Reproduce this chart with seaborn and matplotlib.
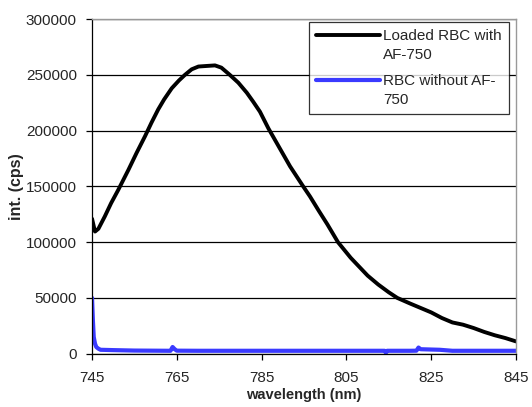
import matplotlib
matplotlib.use("Agg")
import matplotlib.pyplot as plt
import seaborn as sns
import pandas as pd
import numpy as np
from matplotlib.legend_handler import HandlerLine2D

# loaded RBC with AF-750
wl_loaded = [745, 745.7, 746.5, 748, 749.5, 751.2, 753.6, 755.5, 757.5, 759, 760.6,
             762, 763.8, 765.5, 766.9, 768.5, 770.1, 772, 774, 775.5, 777.5, 779.5,
             781.5, 783, 784.6, 786.6, 789.3, 791.7, 794.8, 796.4, 798.5, 800.5,
             803, 806, 808, 810, 812.5, 815, 817, 820, 822.5, 825, 827.5, 830,
             832.5, 835, 837.5, 840, 842.5, 845]
int_loaded = [121000, 109500, 112000, 123000, 135000, 147000, 165000, 180000, 195000,
              207000, 219000, 228000, 238000, 245000, 250000, 255000, 257500, 258000,
              258500, 256500, 250000, 243000, 234000, 226000, 217000, 202000, 184000,
              168000, 150000, 141000, 128000, 116000, 100000, 86000, 78000, 70000,
              62000, 55000, 50000, 45000, 41000, 37000, 32000, 28000, 26000, 23000,
              19500, 16500, 14000, 11000]

# RBC without AF-750
wl_plain = [745, 745.2, 745.4, 745.7, 746, 746.5, 747, 750, 755, 763.5, 764, 764.5,
            765, 770, 780, 790, 800, 810, 814, 814.3, 814.6, 820, 821.5, 822, 822.5,
            827, 830, 840, 845]
int_plain = [50000, 30000, 15000, 9000, 6000, 4500, 3500, 3200, 2800, 2600, 6000, 4000,
             2700, 2600, 2600, 2600, 2600, 2600, 2600, 800, 2600, 2600, 2700, 5500, 4000,
             3500, 2600, 2600, 2600]

lbl_loaded = "Loaded RBC with\nAF-750"
lbl_plain = "RBC without AF-\n750"


class TopLineHandler(HandlerLine2D):
    # put the legend line next to the first text line, like Excel does
    def create_artists(self, *args, **kwargs):
        arts = super().create_artists(*args, **kwargs)
        for a in arts:
            a.set_ydata(np.asarray(a.get_ydata()) + 7.5)
        return arts


sns.set_style("white")
plt.rcParams['font.family'] = ['Liberation Sans', 'DejaVu Sans']

fig = plt.figure(figsize=(5.32, 4.07), dpi=100)
ax = fig.add_axes([0.173, 0.131, 0.797, 0.822])

df_l = pd.DataFrame({'wl': wl_loaded, 'val': int_loaded})
df_p = pd.DataFrame({'wl': wl_plain, 'val': int_plain})
sns.lineplot(data=df_l, x='wl', y='val', color='black', linewidth=2.8,
             estimator=None, sort=False, label=lbl_loaded, ax=ax,
             solid_joinstyle='round', solid_capstyle='round')
sns.lineplot(data=df_p, x='wl', y='val', color='#3a3aff', linewidth=3,
             estimator=None, sort=False, label=lbl_plain, ax=ax)

ax.set_xlim(745, 845)
ax.set_ylim(0, 300000)
ax.set_xticks([745, 765, 785, 805, 825, 845])
ax.set_yticks(range(0, 300001, 50000))
ax.yaxis.grid(True, color='black', linewidth=0.9)
ax.set_axisbelow(True)
ax.tick_params(axis='both', direction='out', length=4, width=0.9, color='black',
               labelsize=11, left=True, bottom=True)
ax.tick_params(axis='x', pad=8.5)
ax.tick_params(axis='y', pad=7)
for s in ['left', 'bottom']:
    ax.spines[s].set_color('black')
    ax.spines[s].set_linewidth(0.9)
for s in ['top', 'right']:
    ax.spines[s].set_color('#999999')
    ax.spines[s].set_linewidth(1)

ax.set_xlabel('wavelength (nm)', fontsize=10.5, fontweight='bold', labelpad=2)
ax.set_ylabel('int. (cps)', fontsize=11.5, fontweight='bold', labelpad=1)

leg = ax.legend(loc='upper right', bbox_to_anchor=(0.983, 0.992), fontsize=11,
                frameon=True, fancybox=False, edgecolor='black', handlelength=4.2,
                handletextpad=0.2, borderpad=0.45, labelspacing=0.75,
                borderaxespad=0, handler_map={matplotlib.lines.Line2D: TopLineHandler()})
leg.get_frame().set_linewidth(0.9)
for t in leg.get_texts():
    t.set_linespacing(1.5)

fig.savefig('out.png', dpi=100)
